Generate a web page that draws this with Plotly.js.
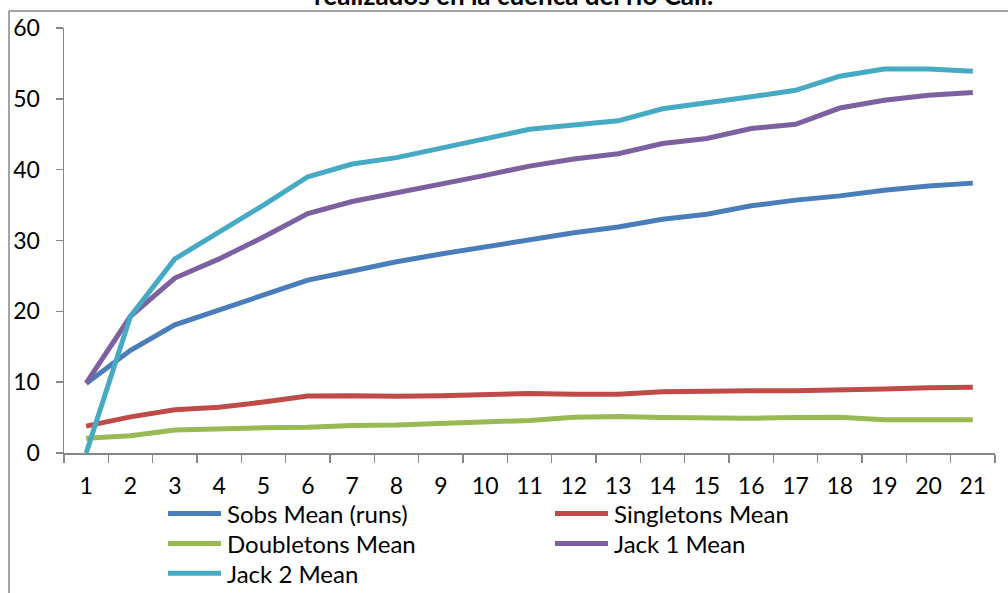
<!DOCTYPE html>
<html>
<head>
<meta charset="utf-8">
<script src="https://cdn.plot.ly/plotly-3.0.1.min.js"></script>
<style>html,body{margin:0;padding:0;background:#fff;}#chart{width:1008px;height:593px;}</style>
</head>
<body>
<div id="chart"></div>
<script>
const samples = ["1","2","3","4","5","6","7","8","9","10","11","12","13","14","15","16","17","18","19","20","21"];
const sobsMean = [9.8,14.5,18.1,20.2,22.3,24.4,25.7,27.0,28.1,29.1,30.1,31.1,31.9,33.0,33.7,34.9,35.7,36.3,37.1,37.7,38.1];
const singletonsMean = [3.8,5.1,6.1,6.45,7.2,8.05,8.1,8.0,8.1,8.3,8.4,8.3,8.3,8.65,8.8,8.8,8.8,8.85,9.05,9.2,9.3];
const doubletonsMean = [2.1,2.45,3.25,3.45,3.55,3.65,3.9,3.95,4.2,4.4,4.6,5.05,5.15,5.0,4.9,4.9,5.0,5.05,4.7,4.7,4.7];
const jack1Mean = [9.85,19.3,24.7,27.4,30.5,33.8,35.5,36.7,37.9,39.2,40.5,41.5,42.25,43.7,44.4,45.8,46.4,48.7,49.8,50.5,50.9];
const jack2Mean = [0,19.3,27.4,31.1,35.0,39.0,40.8,41.7,43.0,44.4,45.7,46.3,46.9,48.6,49.4,50.3,51.2,53.2,54.2,54.2,53.9];
const seriesNames = ["Sobs Mean (runs)","Singletons Mean","Doubletons Mean","Jack 1 Mean","Jack 2 Mean"];
const titleText = "realizados en la cuenca del rio Cali.";

const colors = ["#4A7EBB","#BE4B48","#98B954","#7D60A0","#46AAC5"];
const data = [sobsMean, singletonsMean, doubletonsMean, jack1Mean, jack2Mean];
const traces = data.map((ys,i)=>({
  x: samples, y: ys, type:'scatter', mode:'lines', name: seriesNames[i],
  line:{color:colors[i], width:5}, showlegend:false
}));

const L=64, R=13, T=28, B=139.5, W=1008, H=593;
const pw = W-L-R, ph = H-T-B;
const px2x = p => (p-L)/pw;
const py2y = p => (H-B-p)/ph;
const FONT = 'Lato, "Open Sans", sans-serif';

const shapes = [
  {type:'line', xref:'paper', yref:'paper', x0:px2x(9), x1:px2x(1010), y0:py2y(11), y1:py2y(11),
   line:{color:'#868686', width:1.5}},
  {type:'line', xref:'paper', yref:'paper', x0:px2x(9), x1:px2x(9), y0:py2y(11), y1:py2y(600),
   line:{color:'#868686', width:1.5}}
];
const annotations = [
  {text:'<b>'+titleText+'</b>', xref:'paper', yref:'paper', x:px2x(513), xanchor:'center',
   y:py2y(13), yanchor:'bottom', showarrow:false, font:{size:26, family:FONT, color:'#000'}}
];
// manual legend (two columns)
const colLineX = [168, 555], colTextX = [225, 612], rowY = [514, 544, 574];
seriesNames.forEach((nm,i)=>{
  const c = i%2, r = Math.floor(i/2);
  shapes.push({type:'line', xref:'paper', yref:'paper', x0:px2x(colLineX[c]), x1:px2x(colLineX[c]+53),
    y0:py2y(rowY[r]), y1:py2y(rowY[r]), line:{color:colors[i], width:5}});
  annotations.push({text:nm, xref:'paper', yref:'paper', x:px2x(colTextX[c]), xanchor:'left',
    y:py2y(rowY[r]), yanchor:'middle', showarrow:false, font:{size:24, family:FONT, color:'#000'}});
});

const layout = {
  width: W, height: H,
  margin:{l:L, r:R, t:T, b:B, pad:0},
  paper_bgcolor:'#ffffff', plot_bgcolor:'#ffffff',
  font:{family:FONT, size:22, color:'#000'},
  showlegend:false,
  xaxis:{type:'category', tickson:'boundaries', ticks:'outside', ticklen:8, tickwidth:1.5,
         tickcolor:'#868686', showline:true, linecolor:'#868686', linewidth:1.5,
         showgrid:false, zeroline:false, ticklabelstandoff:12,
         range:[-0.5,20.5], fixedrange:true, tickfont:{size:23}, automargin:false},
  yaxis:{range:[0,60], tickvals:[0,10,20,30,40,50,60], ticks:'outside', ticklen:7, tickwidth:1.5,
         tickcolor:'#868686', showline:true, linecolor:'#868686', linewidth:1.5,
         showgrid:false, zeroline:false, ticklabelstandoff:11, tickfont:{size:23}, automargin:false},
  shapes: shapes,
  annotations: annotations
};

Plotly.newPlot('chart', traces, layout, {displayModeBar:false, staticPlot:true});
</script>
</body>
</html>
